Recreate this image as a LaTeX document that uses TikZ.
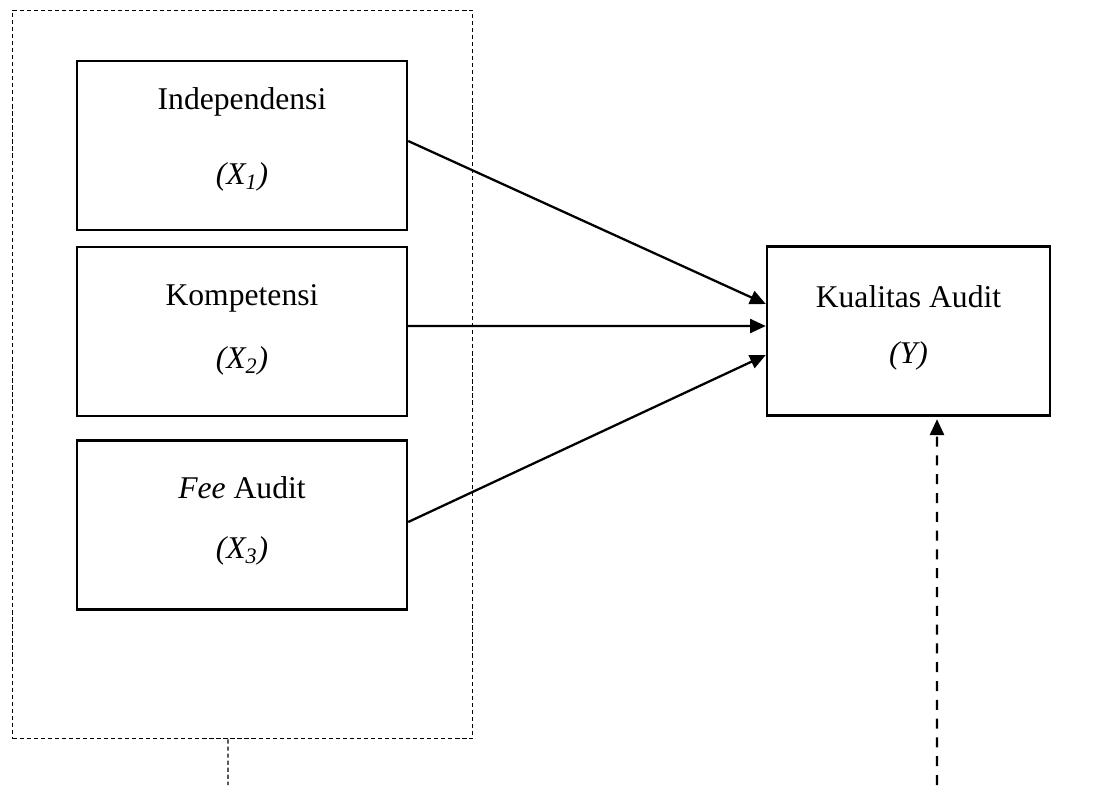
\documentclass[tikz,border=0pt]{standalone}
\usepackage{fontspec}
\setmainfont{Liberation Serif}
\usetikzlibrary{arrows.meta}
\begin{document}
\begin{tikzpicture}[x=0.02cm,y=-0.02cm,
  box/.style={draw,line width=1.4pt,rectangle,inner sep=0pt,minimum width=6.6cm,minimum height=3.38cm},
  lbl/.style={font=\fontsize{18}{22}\selectfont,inner sep=0pt},
  arr/.style={line width=1.3pt,-{Triangle[length=9pt,width=8pt]}},
  grpbox/.style={draw,line width=0.6pt,dash pattern=on 2.4pt off 1.6pt,rectangle,inner sep=0pt,minimum width=9.2cm,minimum height=14.58cm},
  thindash/.style={line width=0.6pt,dash pattern=on 2.4pt off 1.6pt},
  thickdash/.style={line width=1.3pt,dash pattern=on 5.7pt off 5pt,-{Triangle[length=9pt,width=8pt]}}]
\useasboundingbox (0,0) rectangle (1104,785);
\node[grpbox] (grp) at (242.5,374.5) {};
\node[box] (b1) at (242,145.5) {};
\node[box] (b2) at (242,331.5) {};
\node[box] (b3) at (242,525) {};
\node[box,minimum width=5.66cm] (y) at (908.5,331) {};
\node[lbl] (t1) at (242,102) {Independensi};
\node[lbl] (s1) at (242,177) {\textit{(X\textsubscript{1})}};
\node[lbl] (t2) at (242,298) {Kompetensi};
\node[lbl] (s2) at (242,361) {\textit{(X\textsubscript{2})}};
\node[lbl] (t3) at (242,488) {\textit{Fee} Audit};
\node[lbl] (s3) at (242,551) {\textit{(X\textsubscript{3})}};
\node[lbl] (ty) at (908.5,297) {Kualitas Audit};
\node[lbl] (sy) at (908.5,356) {\textit{(Y)}};
\coordinate (c1) at (228,785);
\coordinate (c2) at (937,785);
\draw[arr] ([yshift=0.09cm]b1.east) -- ([yshift=0.54cm]y.west);
\draw[arr] ([yshift=0.11cm]b2.east) -- ([yshift=0.1cm]y.west);
\draw[arr] ([yshift=0.06cm]b3.east) -- ([yshift=-0.48cm]y.west);
\draw[thindash] ([xshift=-0.29cm]grp.south) -- (c1);
\draw[thickdash] (c2) -- ([xshift=0.57cm,yshift=-0.05cm]y.south);
\end{tikzpicture}
\end{document}
